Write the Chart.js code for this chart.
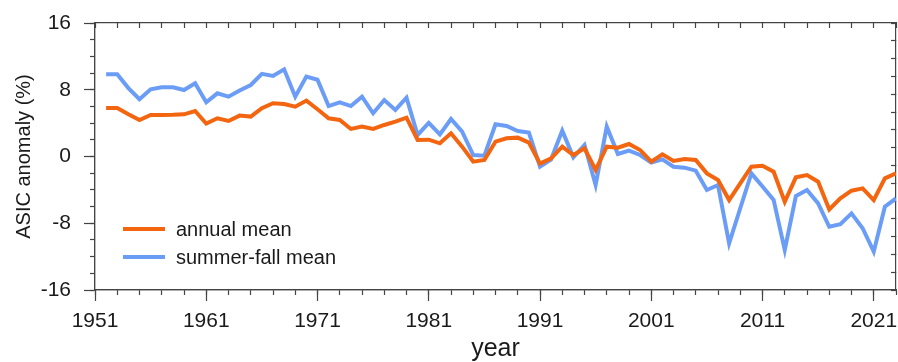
<!DOCTYPE html>
<html>
<head>
<meta charset="utf-8">
<script src="https://cdn.jsdelivr.net/npm/chart.js@4.4.1/dist/chart.umd.min.js"></script>
<style>
  body { margin: 0; background: #fff; }
  #wrap { position: relative; width: 898px; height: 362px; }
  #legend { position: absolute; left: 123px; top: 215px; font-family: "Liberation Sans", Arial, sans-serif; font-size: 20px; color: #1a1a1a; }
  .item { display: flex; align-items: center; height: 28px; }
  .swatch { width: 42px; height: 4px; margin-right: 11px; }
</style>
</head>
<body>
<div id="wrap">
  <canvas id="chart" width="898" height="362"></canvas>
  <div id="legend"></div>
</div>
<script>
const years = Array.from({ length: 72 }, (_, i) => 1952 + i);

const annualMean = [
  5.8, 5.8, 5.06, 4.38, 4.98, 4.98, 5.0, 5.05, 5.45, 3.95,
  4.58, 4.26, 4.9, 4.78, 5.78, 6.38, 6.3, 5.97, 6.7, 5.66,
  4.58, 4.38, 3.3, 3.58, 3.3, 3.78, 4.17, 4.65, 1.98, 2.02,
  1.58, 2.78, 1.18, -0.62, -0.42, 1.78, 2.18, 2.26, 1.66, -0.85,
  -0.22, 1.18, 0.18, 0.98, -1.62, 1.18, 1.06, 1.5, 0.78, -0.62,
  0.26, -0.54, -0.3, -0.42, -2.02, -2.82, -5.22, -3.22, -1.22, -1.1,
  -1.82, -5.42, -2.5, -2.22, -3.02, -6.34, -5.02, -4.1, -3.82, -5.22,
  -2.62, -2.02
];

const summerFallMean = [
  9.86, 9.86, 8.2, 6.86, 8.05, 8.3, 8.3, 7.97, 8.78, 6.5,
  7.57, 7.17, 7.9, 8.57, 9.9, 9.65, 10.45, 7.17, 9.57, 9.2,
  6.05, 6.5, 6.05, 7.17, 5.18, 6.77, 5.58, 7.05, 2.58, 4.02,
  2.66, 4.5, 2.97, 0.18, 0.1, 3.86, 3.66, 3.06, 2.86, -1.22,
  -0.34, 3.1, -0.1, 1.38, -3.42, 3.58, 0.3, 0.7, 0.18, -0.74,
  -0.34, -1.22, -1.34, -1.7, -4.02, -3.42, -10.4, -6.2, -2.02, -3.6,
  -5.2, -11.2, -4.74, -4.02, -5.62, -8.42, -8.1, -6.82, -8.6, -11.4,
  -6.02, -5.02
];

const xMajorTicks = [1951, 1961, 1971, 1981, 1991, 2001, 2011, 2021];
const xMinorTicks = [];
for (let y = 1951; y <= 2023; y += 2) xMinorTicks.push(y);

const FONT = '"Liberation Sans", Arial, sans-serif';
const INK = '#1a1a1a';
const AXIS = '#444';

const toPoints = (vals) => vals.map((v, i) => ({ x: years[i], y: v }));
const setTicks = (list) => (scale) => { scale.ticks = list.map((v) => ({ value: v })); };

// fixed box sizes, and no extra room for overhanging labels
const fixBox = (w, h) => (s) => {
  if (w !== null) s.width = w;
  if (h !== null) s.height = h;
  s.paddingLeft = s.paddingRight = s.paddingTop = s.paddingBottom = 0;
};

const decoAxis = (position, extra) => Object.assign({
  type: 'linear',
  position: position,
  weight: 0,
  ticks: { display: false },
  grid: { drawOnChartArea: false, tickLength: 5, tickColor: AXIS, tickWidth: 1.2 },
  border: { color: AXIS, width: 1.2 },
}, extra);

const chart = new Chart(document.getElementById('chart'), {
  type: 'line',
  data: {
    datasets: [
      {
        label: 'annual mean',
        data: toPoints(annualMean),
        borderColor: '#F3650F',
        backgroundColor: '#F3650F',
        borderWidth: 4,
        pointRadius: 0,
        tension: 0,
      },
      {
        label: 'summer-fall mean',
        data: toPoints(summerFallMean),
        borderColor: '#6B9DF7',
        backgroundColor: '#6B9DF7',
        borderWidth: 4,
        pointRadius: 0,
        tension: 0,
      },
    ],
  },
  options: {
    responsive: false,
    devicePixelRatio: 1,
    animation: false,
    layout: { padding: 0 },
    plugins: { legend: { display: false }, tooltip: { enabled: false } },
    scales: {
      x: {
        type: 'linear',
        position: 'bottom',
        weight: 1,
        min: 1951,
        max: 2023,
        afterBuildTicks: setTicks(xMajorTicks),
        ticks: {
          callback: (v) => String(v),
          font: { family: FONT, size: 21 },
          color: INK,
          padding: 8,
          maxRotation: 0,
          autoSkip: false,
        },
        grid: { drawOnChartArea: false, tickLength: 11, tickColor: AXIS, tickWidth: 1.2 },
        border: { color: AXIS, width: 1.2 },
        title: {
          display: true,
          text: 'year',
          font: { family: FONT, size: 25, lineHeight: 1 },
          color: INK,
          padding: { top: 0, bottom: 0 },
        },
        afterFit: fixBox(null, 72),
      },
      xMinor: decoAxis('bottom', {
        min: 1951, max: 2023,
        afterBuildTicks: setTicks(xMinorTicks),
        afterFit: fixBox(null, 0),
      }),
      xTop: decoAxis('top', {
        min: 1951, max: 2023,
        afterBuildTicks: setTicks(xMinorTicks),
        grid: { drawOnChartArea: false, tickLength: -5, tickColor: AXIS, tickWidth: 1.2 },
        afterFit: fixBox(null, 23),
      }),
      y: {
        type: 'linear',
        position: 'left',
        weight: 1,
        min: -16,
        max: 16,
        ticks: {
          stepSize: 8,
          font: { family: FONT, size: 21 },
          color: INK,
          padding: 13,
        },
        grid: { drawOnChartArea: false, tickLength: 11, tickColor: AXIS, tickWidth: 1.2 },
        border: { color: AXIS, width: 1.2 },
        title: {
          display: true,
          text: 'ASIC anomaly (%)',
          font: { family: FONT, size: 20 },
          color: INK,
          padding: { top: 12, bottom: 0 },
        },
        afterFit: fixBox(95, null),
      },
      yMinor: decoAxis('left', {
        min: -16, max: 16,
        ticks: { display: false, stepSize: 2 },
        afterFit: fixBox(0, null),
      }),
      yRight: decoAxis('right', {
        min: -15, max: 15,
        ticks: { display: false, stepSize: 2 },
        grid: { drawOnChartArea: false, tickLength: -5, tickColor: AXIS, tickWidth: 1.2 },
        afterFit: fixBox(2, null),
      }),
    },
  },
});

const legendBox = document.getElementById('legend');
chart.data.datasets.forEach((ds) => {
  const row = document.createElement('div');
  row.className = 'item';
  const swatch = document.createElement('span');
  swatch.className = 'swatch';
  swatch.style.background = ds.borderColor;
  const label = document.createElement('span');
  label.textContent = ds.label;
  row.appendChild(swatch);
  row.appendChild(label);
  legendBox.appendChild(row);
});
</script>
</body>
</html>
